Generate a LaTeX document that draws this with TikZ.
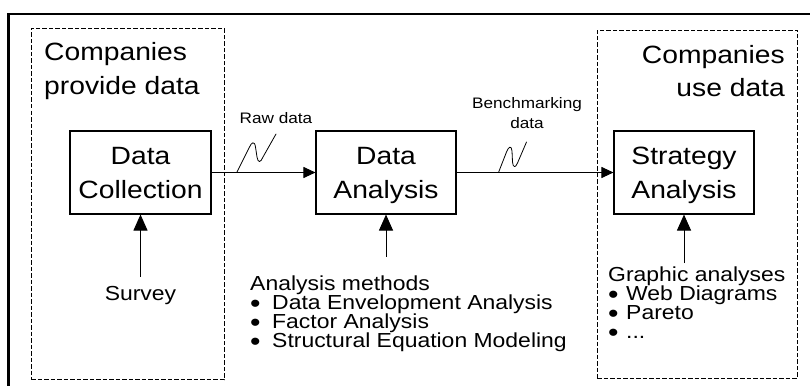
\documentclass[tikz,border=0pt]{standalone}
\usepackage{fontspec}
\setmainfont{Liberation Sans}[FakeStretch=1.13]
\usetikzlibrary{arrows.meta}

% multi-line text blocks whose baseline is the baseline of the first line
\newcommand\ctrlines[1]{\vtop{\lineskiplimit=-50pt\halign{\hfil##\hfil\cr#1\crcr}}}
\newcommand\leftlines[1]{\vtop{\lineskiplimit=-50pt\halign{##\hfil\cr#1\crcr}}}
\newcommand\rightlines[1]{\vtop{\lineskiplimit=-50pt\halign{\hfil##\cr#1\crcr}}}
\newcommand\bul[1]{\makebox[#1][l]{\raisebox{-0.13em}{\scalebox{1.3}{\textbullet}}}}

\tikzset{
  bigtext/.style={inner sep=0pt, font=\fontsize{25}{33.5}\selectfont},
  medtext/.style={inner sep=0pt, font=\fontsize{20.3}{19}\selectfont},
  smalltext/.style={inner sep=0pt, font=\fontsize{15.2}{20}\selectfont},
  stage/.style={draw, line width=1.1pt, inner sep=0pt, minimum height=83pt,
    text height=18pt, text depth=33.5pt, font=\fontsize{25}{33.5}\selectfont},
  group/.style={draw, line width=0.9pt, dash pattern=on 4.5pt off 2pt, inner sep=0pt},
  flow/.style={line width=1pt, -{Triangle[length=12pt,width=11pt]}},
  feed/.style={line width=1pt, -{Triangle[length=16pt,width=14pt]}},
  link/.style={line width=0.8pt, line cap=round, line join=round}
}

\begin{document}
\begin{tikzpicture}[x=1pt, y=-1pt]
\useasboundingbox (0,0) rectangle (810,385);
\fill[white] (0,0) rectangle (810,385);

% outer frame (runs off the right and bottom edges)
\draw[line width=2.5pt] (8.5,420) |- (840,14);

% company groups
\node[group, minimum width=193pt, minimum height=351pt] (provgrp) at (127.5,204) {};
\node[group, minimum width=200pt, minimum height=348pt] (usegrp) at (697,204) {};

\node[bigtext, anchor=base west] (prov) at (44,60.7) {\leftlines{Companies\cr provide data}};
\node[bigtext, anchor=base east] (use) at (785,63.3) {\rightlines{Companies\cr use data}};

% process stages
\node[stage, minimum width=141pt] (dc) at (140.5,172.5) {\ctrlines{Data\cr Collection}};
\node[stage, minimum width=140pt] (da) at (386,172.5) {\ctrlines{Data\cr Analysis}};
\node[stage, minimum width=140pt] (sa) at (684,172.5) {\ctrlines{Strategy\cr Analysis}};

\draw[flow] (dc.east) -- (da.west);
\draw[flow] (da.east) -- (sa.west);

% data flow labels with link symbols
\node[smalltext, anchor=base] (raw) at (276,124) {Raw data};
\node[smalltext, anchor=base] (bench) at (527,108.3) {\ctrlines{Benchmarking\cr data}};

\draw[link] (236.7,172.5) -- (249,148) .. controls (251.5,142) and (254.5,140.5) .. (255.5,147)
  -- (257,157) .. controls (258,163) and (260.5,163) .. (263,157) -- (276,134);
\draw[link] (498.5,172.5) -- (506.5,152) .. controls (508.5,146.5) and (511.5,145) .. (512,151)
  -- (512.5,162) .. controls (513,168) and (515.5,168) .. (517.5,163) -- (526.5,142);

% inputs below each stage
\node[medtext, anchor=base] (survey) at (140.5,300) {Survey};
\node[medtext, anchor=base west] (methods) at (250,290.7) {\leftlines{Analysis methods\cr
  \bul{22pt}Data Envelopment Analysis\cr
  \bul{22pt}Factor Analysis\cr
  \bul{22pt}Structural Equation Modeling}};
\node[medtext, anchor=base west] (graphic) at (608,281.7) {\leftlines{Graphic analyses\cr
  \bul{18pt}Web Diagrams\cr
  \bul{18pt}Pareto\cr
  \bul{18pt}...}};

\coordinate (survey-in) at (140.5,276.7);
\coordinate (methods-in) at (386,256.7);
\coordinate (graphic-in) at (684,263);
\draw[feed] (survey-in) -- (dc.south);
\draw[feed] (methods-in) -- (da.south);
\draw[feed] (graphic-in) -- (sa.south);
\end{tikzpicture}
\end{document}
